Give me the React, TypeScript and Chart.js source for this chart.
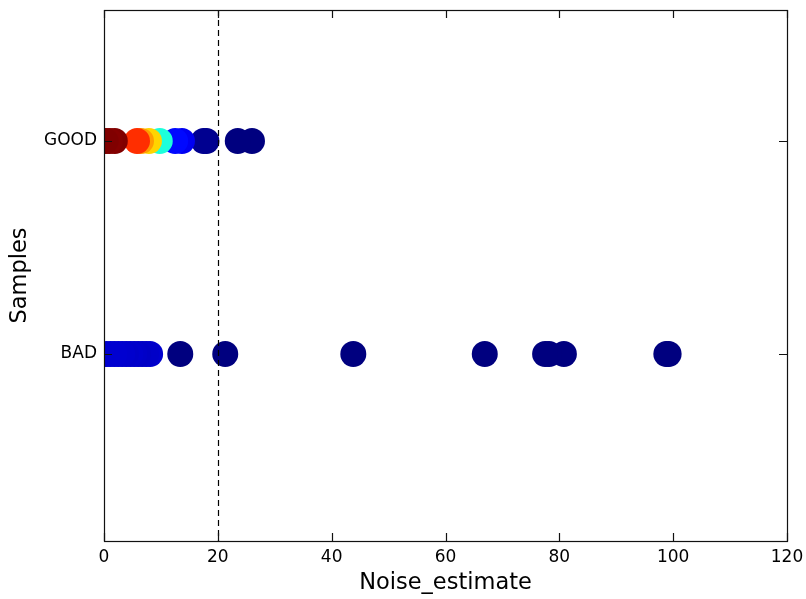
import React, { useEffect, useRef } from "react";
import { Chart, registerables } from "chart.js";

Chart.register(...registerables);

const categories = ["BAD", "GOOD"];
const xTicks = [0, 20, 40, 60, 80, 100, 120];
const threshold = 20;

const goodValues = [26.0, 23.5, 18.0, 17.5, 13.7, 12.5, 9.8, 7.9, 6.5, 5.8, 1.9, 1.0, 0.3];
const goodColors = [
  "#00007f", "#00007f", "#00008b", "#000090", "#0000f1", "#0008ff",
  "#1cffdb", "#ffd400", "#ff9c00", "#ff2e00", "#800000", "#860000", "#800000",
];

const badValues = [
  99.2, 98.8, 80.8, 78.2, 77.5, 66.9, 43.8, 21.3, 13.4,
  8.1, 7.4, 6.7, 6.0, 5.3, 4.6, 3.9, 3.2, 2.5, 1.8, 1.1, 0.4,
];
const badColors = [
  "#00007f", "#00007f", "#00007f", "#00007f", "#00007f", "#00007f", "#00007f", "#00007f", "#00007f",
  "#0000cd", "#0000c8", "#0000c8", "#0000c4", "#0000c8", "#0000cc", "#0000c8", "#0000cd", "#0000cd", "#0000d0", "#0000d0", "#0000d0",
];

const FONT = "'DejaVu Sans', sans-serif";

const framePlugin = {
  id: "frame",
  afterDatasetsDraw(chart: any) {
    const { ctx, chartArea: a, scales } = chart;
    const xs = scales.x;
    const ys = scales.y;
    ctx.save();
    const tx = Math.round(xs.getPixelForValue(threshold)) + 0.5;
    ctx.strokeStyle = "#000";
    ctx.lineWidth = 1.2;
    ctx.setLineDash([6, 4]);
    ctx.beginPath();
    ctx.moveTo(tx, a.top);
    ctx.lineTo(tx, a.bottom);
    ctx.stroke();
    ctx.setLineDash([]);
    ctx.lineWidth = 1.2;
    ctx.strokeStyle = "#111";
    ctx.strokeRect(Math.round(a.left) + 0.5, Math.round(a.top) + 0.5, Math.round(a.right - a.left), Math.round(a.bottom - a.top));
    const tl = 8;
    ctx.beginPath();
    xTicks.forEach((v) => {
      const px = Math.round(xs.getPixelForValue(v)) + 0.5;
      ctx.moveTo(px, a.bottom);
      ctx.lineTo(px, a.bottom - tl);
      ctx.moveTo(px, a.top);
      ctx.lineTo(px, a.top + tl);
    });
    [0, 1].forEach((v) => {
      const py = Math.round(ys.getPixelForValue(v)) + 0.5;
      ctx.moveTo(a.left, py);
      ctx.lineTo(a.left + tl, py);
      ctx.moveTo(a.right, py);
      ctx.lineTo(a.right - tl, py);
    });
    ctx.stroke();
    ctx.fillStyle = "#000";
    ctx.font = `22.5px ${FONT}`;
    ctx.textAlign = "center";
    ctx.textBaseline = "middle";
    ctx.fillText("Noise_estimate", (a.left + a.right) / 2, 583);
    ctx.translate(20, (a.top + a.bottom) / 2);
    ctx.rotate(-Math.PI / 2);
    ctx.fillText("Samples", 0, 0);
    ctx.restore();
  },
};

export default function App() {
  const ref = useRef<HTMLCanvasElement | null>(null);
  useEffect(() => {
    if (!ref.current) return;
    const chart = new Chart(ref.current, {
      type: "scatter",
      data: {
        datasets: [
          {
            label: categories[1],
            data: goodValues.map((v) => ({ x: v, y: 1 })),
            backgroundColor: goodColors,
            borderColor: goodColors,
            borderWidth: 0,
            pointRadius: 13,
            clip: 0,
          },
          {
            label: categories[0],
            data: badValues.map((v) => ({ x: v, y: 0 })),
            backgroundColor: badColors,
            borderColor: badColors,
            borderWidth: 0,
            pointRadius: 13,
            clip: 0,
          },
        ],
      },
      plugins: [framePlugin],
      options: {
        responsive: false,
        animation: false,
        layout: { autoPadding: false, padding: { left: 0, top: 10, right: 19, bottom: 0 } },
        plugins: { legend: { display: false }, tooltip: { enabled: false } },
        scales: {
          x: {
            type: "linear",
            min: 0,
            max: 120,
            border: { display: false },
            grid: { display: false, drawTicks: false },
            afterBuildTicks: (s: any) => {
              s.ticks = xTicks.map((v) => ({ value: v }));
            },
            afterFit: (s: any) => {
              s.height = 58;
              s.paddingLeft = 0;
              s.paddingRight = 0;
            },
            ticks: {
              padding: 6,
              color: "#000",
              font: { family: FONT, size: 17 },
              maxRotation: 0,
              autoSkip: false,
            },
          },
          y: {
            type: "linear",
            min: -0.878,
            max: 1.615,
            border: { display: false },
            grid: { display: false, drawTicks: false },
            afterBuildTicks: (s: any) => {
              s.ticks = [{ value: 0 }, { value: 1 }];
            },
            afterFit: (s: any) => {
              s.width = 104;
              s.paddingTop = 0;
              s.paddingBottom = 0;
            },
            ticks: {
              padding: 7,
              color: "#000",
              font: { family: FONT, size: 17 },
              callback: (v: any) => categories[v as number] ?? "",
              autoSkip: false,
            },
          },
        },
      },
    } as any);
    return () => chart.destroy();
  }, []);
  return (
    <div style={{ position: "fixed", left: 0, top: 0, width: 806, height: 599, background: "#fff" }}>
      <canvas ref={ref} width={806} height={599} style={{ display: "block" }} />
    </div>
  );
}
